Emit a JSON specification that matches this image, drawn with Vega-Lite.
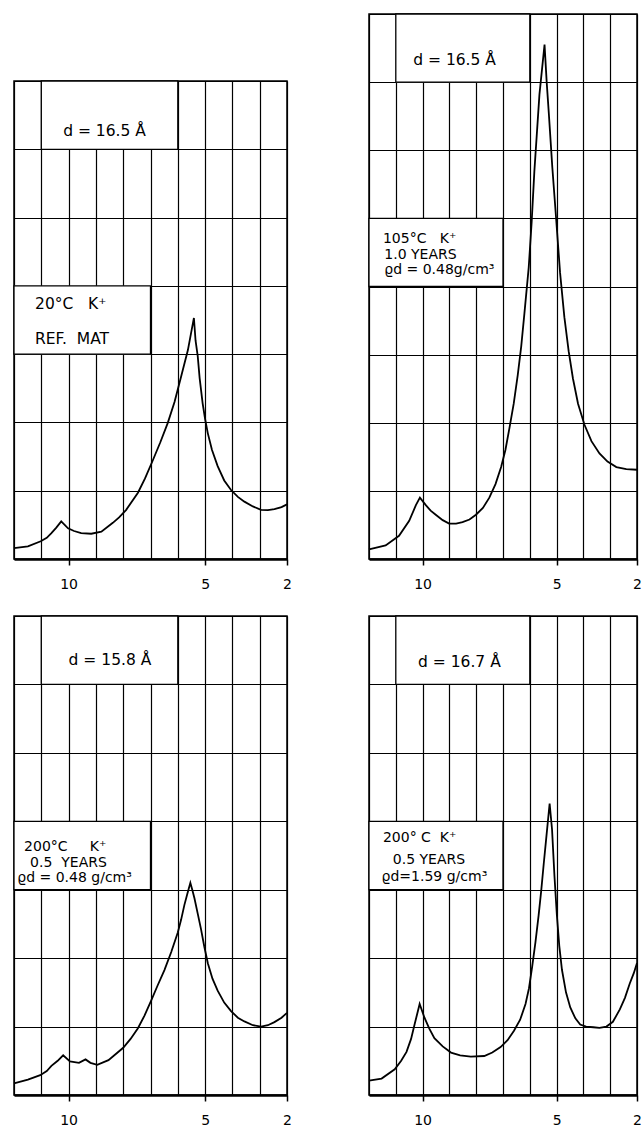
{
  "$schema": "https://vega.github.io/schema/vega-lite/v6.json",
  "background": "white",
  "padding": {"left": 9, "top": 12, "right": 0, "bottom": 0},
  "spacing": 71,
  "datasets": {
    "curves": [
      {"panel": "TL", "x": 0, "y": 0.16}, {"panel": "TL", "x": 0.51, "y": 0.185}, {"panel": "TL", "x": 0.98, "y": 0.26}, {"panel": "TL", "x": 1.2, "y": 0.31}, {"panel": "TL", "x": 1.37, "y": 0.38}, {"panel": "TL", "x": 1.55, "y": 0.46}, {"panel": "TL", "x": 1.73, "y": 0.55}, {"panel": "TL", "x": 1.98, "y": 0.45}, {"panel": "TL", "x": 2.2, "y": 0.41}, {"panel": "TL", "x": 2.46, "y": 0.38}, {"panel": "TL", "x": 2.83, "y": 0.37}, {"panel": "TL", "x": 3.2, "y": 0.4}, {"panel": "TL", "x": 3.62, "y": 0.53}, {"panel": "TL", "x": 3.85, "y": 0.61}, {"panel": "TL", "x": 4.11, "y": 0.72}, {"panel": "TL", "x": 4.54, "y": 0.97}, {"panel": "TL", "x": 4.8, "y": 1.18}, {"panel": "TL", "x": 5.09, "y": 1.45}, {"panel": "TL", "x": 5.36, "y": 1.71}, {"panel": "TL", "x": 5.63, "y": 1.99}, {"panel": "TL", "x": 5.88, "y": 2.3}, {"panel": "TL", "x": 6.12, "y": 2.67}, {"panel": "TL", "x": 6.37, "y": 3.06}, {"panel": "TL", "x": 6.59, "y": 3.53}, {"panel": "TL", "x": 6.65, "y": 3.2}, {"panel": "TL", "x": 6.73, "y": 2.97}, {"panel": "TL", "x": 6.8, "y": 2.65}, {"panel": "TL", "x": 6.91, "y": 2.28}, {"panel": "TL", "x": 7.0, "y": 2.05}, {"panel": "TL", "x": 7.1, "y": 1.84}, {"panel": "TL", "x": 7.25, "y": 1.6}, {"panel": "TL", "x": 7.46, "y": 1.36}, {"panel": "TL", "x": 7.7, "y": 1.15}, {"panel": "TL", "x": 7.95, "y": 1.01}, {"panel": "TL", "x": 8.2, "y": 0.91}, {"panel": "TL", "x": 8.44, "y": 0.84}, {"panel": "TL", "x": 8.75, "y": 0.77}, {"panel": "TL", "x": 9.05, "y": 0.72}, {"panel": "TL", "x": 9.3, "y": 0.715}, {"panel": "TL", "x": 9.54, "y": 0.73}, {"panel": "TL", "x": 9.8, "y": 0.76}, {"panel": "TL", "x": 10, "y": 0.8},

      {"panel": "TR", "x": 0, "y": 0.14}, {"panel": "TR", "x": 0.62, "y": 0.2}, {"panel": "TR", "x": 1.12, "y": 0.34}, {"panel": "TR", "x": 1.5, "y": 0.56}, {"panel": "TR", "x": 1.75, "y": 0.79}, {"panel": "TR", "x": 1.9, "y": 0.9}, {"panel": "TR", "x": 2.12, "y": 0.79}, {"panel": "TR", "x": 2.3, "y": 0.71}, {"panel": "TR", "x": 2.49, "y": 0.65}, {"panel": "TR", "x": 2.75, "y": 0.57}, {"panel": "TR", "x": 2.99, "y": 0.52}, {"panel": "TR", "x": 3.25, "y": 0.52}, {"panel": "TR", "x": 3.49, "y": 0.54}, {"panel": "TR", "x": 3.75, "y": 0.58}, {"panel": "TR", "x": 3.99, "y": 0.65}, {"panel": "TR", "x": 4.25, "y": 0.75}, {"panel": "TR", "x": 4.49, "y": 0.9}, {"panel": "TR", "x": 4.72, "y": 1.1}, {"panel": "TR", "x": 4.93, "y": 1.35}, {"panel": "TR", "x": 5.09, "y": 1.6}, {"panel": "TR", "x": 5.24, "y": 1.92}, {"panel": "TR", "x": 5.4, "y": 2.28}, {"panel": "TR", "x": 5.55, "y": 2.7}, {"panel": "TR", "x": 5.68, "y": 3.12}, {"panel": "TR", "x": 5.8, "y": 3.61}, {"panel": "TR", "x": 5.96, "y": 4.28}, {"panel": "TR", "x": 6.07, "y": 4.95}, {"panel": "TR", "x": 6.17, "y": 5.69}, {"panel": "TR", "x": 6.36, "y": 6.82}, {"panel": "TR", "x": 6.55, "y": 7.55}, {"panel": "TR", "x": 6.63, "y": 7.0}, {"panel": "TR", "x": 6.71, "y": 6.54}, {"panel": "TR", "x": 6.84, "y": 5.75}, {"panel": "TR", "x": 6.98, "y": 5.01}, {"panel": "TR", "x": 7.13, "y": 4.2}, {"panel": "TR", "x": 7.29, "y": 3.55}, {"panel": "TR", "x": 7.45, "y": 3.05}, {"panel": "TR", "x": 7.61, "y": 2.65}, {"panel": "TR", "x": 7.8, "y": 2.28}, {"panel": "TR", "x": 8.04, "y": 1.97}, {"panel": "TR", "x": 8.3, "y": 1.73}, {"panel": "TR", "x": 8.6, "y": 1.55}, {"panel": "TR", "x": 8.9, "y": 1.43}, {"panel": "TR", "x": 9.23, "y": 1.35}, {"panel": "TR", "x": 9.6, "y": 1.32}, {"panel": "TR", "x": 10, "y": 1.31},

      {"panel": "BL", "x": 0, "y": 0.17}, {"panel": "BL", "x": 0.51, "y": 0.225}, {"panel": "BL", "x": 0.96, "y": 0.29}, {"panel": "BL", "x": 1.2, "y": 0.35}, {"panel": "BL", "x": 1.37, "y": 0.425}, {"panel": "BL", "x": 1.6, "y": 0.5}, {"panel": "BL", "x": 1.8, "y": 0.58}, {"panel": "BL", "x": 2.05, "y": 0.49}, {"panel": "BL", "x": 2.38, "y": 0.47}, {"panel": "BL", "x": 2.62, "y": 0.52}, {"panel": "BL", "x": 2.8, "y": 0.47}, {"panel": "BL", "x": 3.05, "y": 0.44}, {"panel": "BL", "x": 3.46, "y": 0.51}, {"panel": "BL", "x": 4.0, "y": 0.69}, {"panel": "BL", "x": 4.27, "y": 0.82}, {"panel": "BL", "x": 4.54, "y": 0.975}, {"panel": "BL", "x": 4.78, "y": 1.16}, {"panel": "BL", "x": 5.02, "y": 1.375}, {"panel": "BL", "x": 5.26, "y": 1.6}, {"panel": "BL", "x": 5.51, "y": 1.825}, {"panel": "BL", "x": 5.76, "y": 2.09}, {"panel": "BL", "x": 6.0, "y": 2.375}, {"panel": "BL", "x": 6.12, "y": 2.56}, {"panel": "BL", "x": 6.24, "y": 2.775}, {"panel": "BL", "x": 6.35, "y": 2.94}, {"panel": "BL", "x": 6.46, "y": 3.1}, {"panel": "BL", "x": 6.53, "y": 3.0}, {"panel": "BL", "x": 6.61, "y": 2.875}, {"panel": "BL", "x": 6.73, "y": 2.65}, {"panel": "BL", "x": 6.85, "y": 2.425}, {"panel": "BL", "x": 6.97, "y": 2.17}, {"panel": "BL", "x": 7.1, "y": 1.925}, {"panel": "BL", "x": 7.27, "y": 1.7}, {"panel": "BL", "x": 7.46, "y": 1.525}, {"panel": "BL", "x": 7.7, "y": 1.35}, {"panel": "BL", "x": 7.95, "y": 1.225}, {"panel": "BL", "x": 8.2, "y": 1.13}, {"panel": "BL", "x": 8.44, "y": 1.075}, {"panel": "BL", "x": 8.75, "y": 1.02}, {"panel": "BL", "x": 9.05, "y": 1.0}, {"panel": "BL", "x": 9.3, "y": 1.02}, {"panel": "BL", "x": 9.54, "y": 1.065}, {"panel": "BL", "x": 9.8, "y": 1.13}, {"panel": "BL", "x": 10, "y": 1.2},

      {"panel": "BR", "x": 0, "y": 0.21}, {"panel": "BR", "x": 0.47, "y": 0.24}, {"panel": "BR", "x": 0.96, "y": 0.375}, {"panel": "BR", "x": 1.2, "y": 0.5}, {"panel": "BR", "x": 1.4, "y": 0.63}, {"panel": "BR", "x": 1.57, "y": 0.82}, {"panel": "BR", "x": 1.7, "y": 1.03}, {"panel": "BR", "x": 1.89, "y": 1.33}, {"panel": "BR", "x": 2.07, "y": 1.13}, {"panel": "BR", "x": 2.25, "y": 0.97}, {"panel": "BR", "x": 2.44, "y": 0.83}, {"panel": "BR", "x": 2.75, "y": 0.71}, {"panel": "BR", "x": 3.06, "y": 0.62}, {"panel": "BR", "x": 3.4, "y": 0.58}, {"panel": "BR", "x": 3.8, "y": 0.56}, {"panel": "BR", "x": 4.3, "y": 0.57}, {"panel": "BR", "x": 4.6, "y": 0.62}, {"panel": "BR", "x": 4.91, "y": 0.7}, {"panel": "BR", "x": 5.17, "y": 0.8}, {"panel": "BR", "x": 5.41, "y": 0.94}, {"panel": "BR", "x": 5.64, "y": 1.1}, {"panel": "BR", "x": 5.84, "y": 1.33}, {"panel": "BR", "x": 5.97, "y": 1.56}, {"panel": "BR", "x": 6.09, "y": 1.88}, {"panel": "BR", "x": 6.21, "y": 2.23}, {"panel": "BR", "x": 6.33, "y": 2.63}, {"panel": "BR", "x": 6.43, "y": 3.0}, {"panel": "BR", "x": 6.52, "y": 3.38}, {"panel": "BR", "x": 6.6, "y": 3.7}, {"panel": "BR", "x": 6.67, "y": 3.98}, {"panel": "BR", "x": 6.74, "y": 4.26}, {"panel": "BR", "x": 6.83, "y": 3.88}, {"panel": "BR", "x": 6.92, "y": 3.2}, {"panel": "BR", "x": 7.01, "y": 2.63}, {"panel": "BR", "x": 7.1, "y": 2.18}, {"panel": "BR", "x": 7.2, "y": 1.83}, {"panel": "BR", "x": 7.35, "y": 1.5}, {"panel": "BR", "x": 7.51, "y": 1.28}, {"panel": "BR", "x": 7.7, "y": 1.12}, {"panel": "BR", "x": 7.88, "y": 1.03}, {"panel": "BR", "x": 8.1, "y": 1.0}, {"panel": "BR", "x": 8.37, "y": 0.99}, {"panel": "BR", "x": 8.6, "y": 0.98}, {"panel": "BR", "x": 8.86, "y": 1.0}, {"panel": "BR", "x": 9.1, "y": 1.07}, {"panel": "BR", "x": 9.36, "y": 1.25}, {"panel": "BR", "x": 9.55, "y": 1.42}, {"panel": "BR", "x": 9.73, "y": 1.63}, {"panel": "BR", "x": 9.88, "y": 1.78}, {"panel": "BR", "x": 10, "y": 1.93}
    ],
    "boxes": [
      {"panel": "TL", "x0": 1, "x1": 6, "y0": 6, "y1": 7}, {"panel": "TL", "x0": 0, "x1": 5, "y0": 3, "y1": 4},
      {"panel": "TR", "x0": 1, "x1": 6, "y0": 7, "y1": 8}, {"panel": "TR", "x0": 0, "x1": 5, "y0": 4, "y1": 5},
      {"panel": "BL", "x0": 1, "x1": 6, "y0": 6, "y1": 7}, {"panel": "BL", "x0": 0, "x1": 5, "y0": 3, "y1": 4},
      {"panel": "BR", "x0": 1, "x1": 6, "y0": 6, "y1": 7}, {"panel": "BR", "x0": 0, "x1": 5, "y0": 3, "y1": 4}
    ],
    "labels": [
      {"panel": "TL", "kind": "head", "x": 1.8, "y": 6.19, "text": "d = 16.5 Å"},
      {"panel": "TL", "kind": "head", "x": 0.77, "y": 3.66, "text": "20°C\u00a0\u00a0\u00a0K⁺"},
      {"panel": "TL", "kind": "head", "x": 0.77, "y": 3.15, "text": "REF.\u00a0\u00a0MAT"},
      {"panel": "TR", "kind": "head", "x": 1.65, "y": 7.25, "text": "d = 16.5 Å"},
      {"panel": "TR", "kind": "note", "x": 0.52, "y": 4.64, "text": "105°C\u00a0\u00a0\u00a0K⁺"},
      {"panel": "TR", "kind": "note", "x": 0.57, "y": 4.41, "text": "1.0 YEARS"},
      {"panel": "TR", "kind": "note", "x": 0.57, "y": 4.18, "text": "ϱd = 0.48g/cm³"},
      {"panel": "BL", "kind": "head", "x": 2.0, "y": 6.29, "text": "d = 15.8 Å"},
      {"panel": "BL", "kind": "note", "x": 0.37, "y": 3.56, "text": "200°C\u00a0\u00a0\u00a0\u00a0\u00a0K⁺"},
      {"panel": "BL", "kind": "note", "x": 0.59, "y": 3.335, "text": "0.5\u00a0\u00a0YEARS"},
      {"panel": "BL", "kind": "note", "x": 0.12, "y": 3.11, "text": "ϱd = 0.48 g/cm³"},
      {"panel": "BR", "kind": "head", "x": 1.83, "y": 6.25, "text": "d = 16.7 Å"},
      {"panel": "BR", "kind": "note", "x": 0.52, "y": 3.69, "text": "200° C\u00a0\u00a0K⁺"},
      {"panel": "BR", "kind": "note", "x": 0.89, "y": 3.38, "text": "0.5 YEARS"},
      {"panel": "BR", "kind": "note", "x": 0.47, "y": 3.13, "text": "ϱd=1.59 g/cm³"}
    ]
  },
  "hconcat": [
    {
      "spacing": 22,
      "vconcat": [
        {
          "width": 273, "height": 43,
          "view": {"stroke": null},
          "data": {"values": [{"n": 0}]},
          "mark": {"type": "point", "opacity": 0},
          "encoding": {}
        },
        {
          "width": 273, "height": 478,
          "layer": [
            {"data": {"name": "boxes"}, "transform": [{"filter": "datum.panel == 'TL'"}],
             "mark": {"type": "rect", "fill": "white", "stroke": "black", "strokeWidth": 1.3},
             "encoding": {
               "x": {"field": "x0", "type": "quantitative", "scale": {"domain": [0, 10], "nice": false, "zero": false},
                     "axis": {"values": [0,1,2,3,4,5,6,7,8,9,10], "title": null, "grid": true, "labelExpr": "datum.value == 2 ? '10' : datum.value == 7 ? '5' : datum.value == 10 ? '2' : ''", "tickColor": {"condition": {"test": "datum.value == 2 || datum.value == 7 || datum.value == 10", "value": "black"}, "value": "transparent"}}},
               "x2": {"field": "x1"},
               "y": {"field": "y0", "type": "quantitative", "scale": {"domain": [0, 7], "nice": false, "zero": false},
                     "axis": {"values": [0,1,2,3,4,5,6,7], "title": null, "grid": true, "labels": false, "ticks": false, "domain": false}},
               "y2": {"field": "y1"}
             }},
            {"data": {"name": "labels"}, "transform": [{"filter": "datum.panel == 'TL' && datum.kind == 'head'"}],
             "mark": {"type": "text", "align": "left", "baseline": "alphabetic", "font": "DejaVu Sans", "fontSize": 15.5, "color": "black"},
             "encoding": {"x": {"field": "x", "type": "quantitative"}, "y": {"field": "y", "type": "quantitative"}, "text": {"field": "text"}}},
            {"data": {"name": "curves"}, "transform": [{"filter": "datum.panel == 'TL'"}],
             "mark": {"type": "line", "color": "black", "strokeWidth": 1.8},
             "encoding": {"x": {"field": "x", "type": "quantitative"}, "y": {"field": "y", "type": "quantitative"}}}
          ]
        },
        {
          "width": 273, "height": 479,
          "layer": [
            {"data": {"name": "boxes"}, "transform": [{"filter": "datum.panel == 'BL'"}],
             "mark": {"type": "rect", "fill": "white", "stroke": "black", "strokeWidth": 1.3},
             "encoding": {
               "x": {"field": "x0", "type": "quantitative", "scale": {"domain": [0, 10], "nice": false, "zero": false},
                     "axis": {"values": [0,1,2,3,4,5,6,7,8,9,10], "title": null, "grid": true, "labelExpr": "datum.value == 2 ? '10' : datum.value == 7 ? '5' : datum.value == 10 ? '2' : ''", "tickColor": {"condition": {"test": "datum.value == 2 || datum.value == 7 || datum.value == 10", "value": "black"}, "value": "transparent"}}},
               "x2": {"field": "x1"},
               "y": {"field": "y0", "type": "quantitative", "scale": {"domain": [0, 7], "nice": false, "zero": false},
                     "axis": {"values": [0,1,2,3,4,5,6,7], "title": null, "grid": true, "labels": false, "ticks": false, "domain": false}},
               "y2": {"field": "y1"}
             }},
            {"data": {"name": "labels"}, "transform": [{"filter": "datum.panel == 'BL' && datum.kind == 'head'"}],
             "mark": {"type": "text", "align": "left", "baseline": "alphabetic", "font": "DejaVu Sans", "fontSize": 15.5, "color": "black"},
             "encoding": {"x": {"field": "x", "type": "quantitative"}, "y": {"field": "y", "type": "quantitative"}, "text": {"field": "text"}}},
            {"data": {"name": "labels"}, "transform": [{"filter": "datum.panel == 'BL' && datum.kind == 'note'"}],
             "mark": {"type": "text", "align": "left", "baseline": "alphabetic", "font": "DejaVu Sans", "fontSize": 14, "color": "black"},
             "encoding": {"x": {"field": "x", "type": "quantitative"}, "y": {"field": "y", "type": "quantitative"}, "text": {"field": "text"}}},
            {"data": {"name": "curves"}, "transform": [{"filter": "datum.panel == 'BL'"}],
             "mark": {"type": "line", "color": "black", "strokeWidth": 1.8},
             "encoding": {"x": {"field": "x", "type": "quantitative"}, "y": {"field": "y", "type": "quantitative"}}}
          ]
        }
      ]
    },
    {
      "spacing": 22,
      "vconcat": [
        {
          "width": 268, "height": 545,
          "layer": [
            {"data": {"name": "boxes"}, "transform": [{"filter": "datum.panel == 'TR'"}],
             "mark": {"type": "rect", "fill": "white", "stroke": "black", "strokeWidth": 1.3},
             "encoding": {
               "x": {"field": "x0", "type": "quantitative", "scale": {"domain": [0, 10], "nice": false, "zero": false},
                     "axis": {"values": [0,1,2,3,4,5,6,7,8,9,10], "title": null, "grid": true, "labelExpr": "datum.value == 2 ? '10' : datum.value == 7 ? '5' : datum.value == 10 ? '2' : ''", "tickColor": {"condition": {"test": "datum.value == 2 || datum.value == 7 || datum.value == 10", "value": "black"}, "value": "transparent"}}},
               "x2": {"field": "x1"},
               "y": {"field": "y0", "type": "quantitative", "scale": {"domain": [0, 8], "nice": false, "zero": false},
                     "axis": {"values": [0,1,2,3,4,5,6,7,8], "title": null, "grid": true, "labels": false, "ticks": false, "domain": false}},
               "y2": {"field": "y1"}
             }},
            {"data": {"name": "labels"}, "transform": [{"filter": "datum.panel == 'TR' && datum.kind == 'head'"}],
             "mark": {"type": "text", "align": "left", "baseline": "alphabetic", "font": "DejaVu Sans", "fontSize": 15.5, "color": "black"},
             "encoding": {"x": {"field": "x", "type": "quantitative"}, "y": {"field": "y", "type": "quantitative"}, "text": {"field": "text"}}},
            {"data": {"name": "labels"}, "transform": [{"filter": "datum.panel == 'TR' && datum.kind == 'note'"}],
             "mark": {"type": "text", "align": "left", "baseline": "alphabetic", "font": "DejaVu Sans", "fontSize": 14, "color": "black"},
             "encoding": {"x": {"field": "x", "type": "quantitative"}, "y": {"field": "y", "type": "quantitative"}, "text": {"field": "text"}}},
            {"data": {"name": "curves"}, "transform": [{"filter": "datum.panel == 'TR'"}],
             "mark": {"type": "line", "color": "black", "strokeWidth": 1.8},
             "encoding": {"x": {"field": "x", "type": "quantitative"}, "y": {"field": "y", "type": "quantitative"}}}
          ]
        },
        {
          "width": 268, "height": 479,
          "layer": [
            {"data": {"name": "boxes"}, "transform": [{"filter": "datum.panel == 'BR'"}],
             "mark": {"type": "rect", "fill": "white", "stroke": "black", "strokeWidth": 1.3},
             "encoding": {
               "x": {"field": "x0", "type": "quantitative", "scale": {"domain": [0, 10], "nice": false, "zero": false},
                     "axis": {"values": [0,1,2,3,4,5,6,7,8,9,10], "title": null, "grid": true, "labelExpr": "datum.value == 2 ? '10' : datum.value == 7 ? '5' : datum.value == 10 ? '2' : ''", "tickColor": {"condition": {"test": "datum.value == 2 || datum.value == 7 || datum.value == 10", "value": "black"}, "value": "transparent"}}},
               "x2": {"field": "x1"},
               "y": {"field": "y0", "type": "quantitative", "scale": {"domain": [0, 7], "nice": false, "zero": false},
                     "axis": {"values": [0,1,2,3,4,5,6,7], "title": null, "grid": true, "labels": false, "ticks": false, "domain": false}},
               "y2": {"field": "y1"}
             }},
            {"data": {"name": "labels"}, "transform": [{"filter": "datum.panel == 'BR' && datum.kind == 'head'"}],
             "mark": {"type": "text", "align": "left", "baseline": "alphabetic", "font": "DejaVu Sans", "fontSize": 15.5, "color": "black"},
             "encoding": {"x": {"field": "x", "type": "quantitative"}, "y": {"field": "y", "type": "quantitative"}, "text": {"field": "text"}}},
            {"data": {"name": "labels"}, "transform": [{"filter": "datum.panel == 'BR' && datum.kind == 'note'"}],
             "mark": {"type": "text", "align": "left", "baseline": "alphabetic", "font": "DejaVu Sans", "fontSize": 14, "color": "black"},
             "encoding": {"x": {"field": "x", "type": "quantitative"}, "y": {"field": "y", "type": "quantitative"}, "text": {"field": "text"}}},
            {"data": {"name": "curves"}, "transform": [{"filter": "datum.panel == 'BR'"}],
             "mark": {"type": "line", "color": "black", "strokeWidth": 1.8},
             "encoding": {"x": {"field": "x", "type": "quantitative"}, "y": {"field": "y", "type": "quantitative"}}}
          ]
        }
      ]
    }
  ],
  "config": {
    "view": {"stroke": "black", "strokeWidth": 1.5},
    "axisX": {"gridColor": "black", "gridOpacity": 1, "gridWidth": 1.2, "domainColor": "black", "domainWidth": 2.4,
              "tickSize": 6, "tickWidth": 1.5, "labelFont": "DejaVu Sans", "labelFontSize": 14, "labelColor": "black",
              "labelPadding": 12, "labelFlush": false, "labelOverlap": false, "labelBound": false, "tickCount": 40},
    "axisY": {"gridColor": "black", "gridOpacity": 1, "gridWidth": 1.2, "tickCount": 40}
  }
}
